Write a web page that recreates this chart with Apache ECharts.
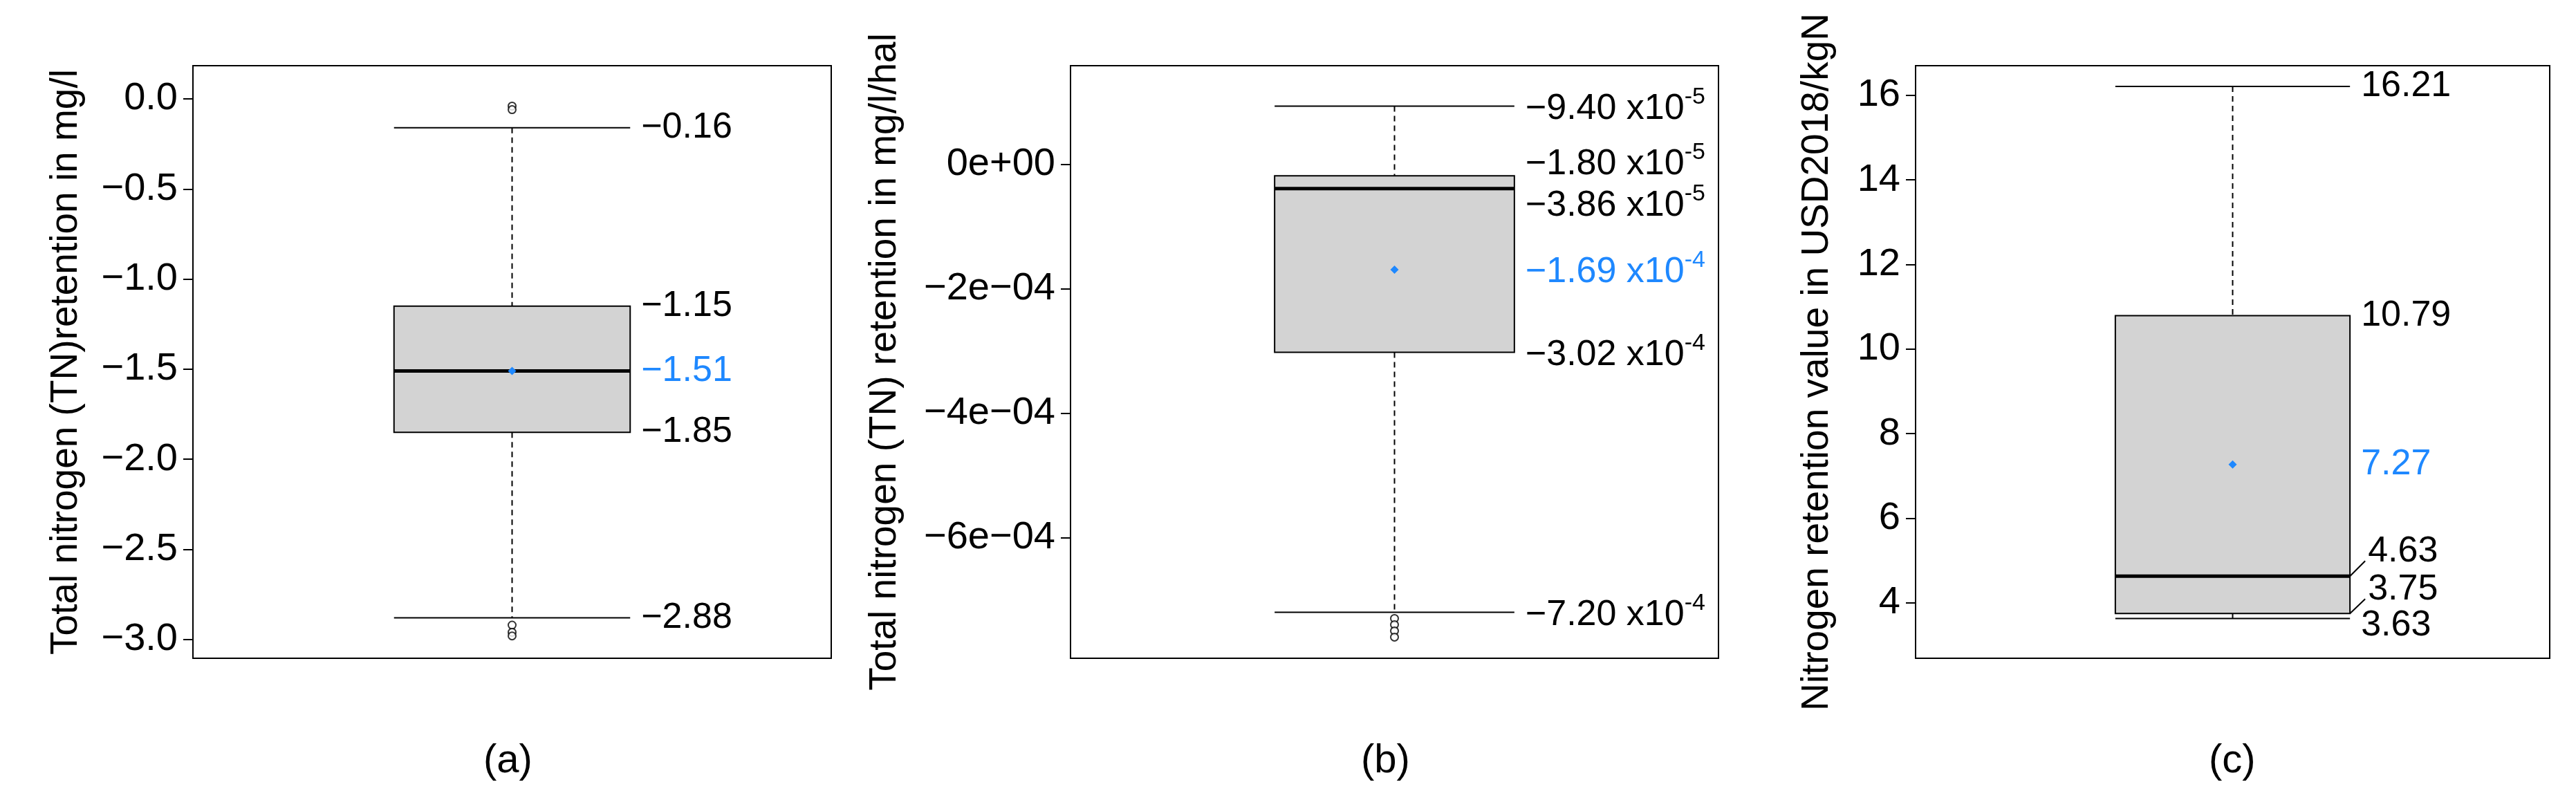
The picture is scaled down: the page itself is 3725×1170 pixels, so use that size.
<!DOCTYPE html>
<html><head><meta charset="utf-8">
<script src="https://cdn.jsdelivr.net/npm/echarts@6/dist/echarts.min.js"></script>
<style>html,body{margin:0;padding:0;background:#fff}#c{width:3725px;height:1170px}</style>
</head><body><div id="c"></div>
<script>
// Panel (a): TN retention mg/l
const statsA = [-2.88, -1.85, -1.51, -1.15, -0.16]; // lower whisker, Q3(low), median, Q1(high), upper whisker
const meanA = -1.51;
const outliersA = [-0.04, -0.06, -2.92, -2.96, -2.98];
const ticksA = [0, -0.5, -1.0, -1.5, -2.0, -2.5, -3.0];
const labelsA = ['−0.16', '−1.15', '−1.51', '−1.85', '−2.88'];
const labelValsA = [-0.16, -1.15, -1.51, -1.85, -2.88];

// Panel (b): TN retention mg/l/hal
const statsB = [-7.20e-4, -3.02e-4, -3.86e-5, -1.80e-5, 9.40e-5];
const meanB = -1.69e-4;
const outliersB = [-7.30e-4, -7.40e-4, -7.50e-4, -7.60e-4];
const ticksB = [0, -2e-4, -4e-4, -6e-4];
const tickLabelsB = ['0e+00', '−2e−04', '−4e−04', '−6e−04'];
const labelsB = [['−9.40 x10', '-5'], ['−1.80 x10', '-5'], ['−3.86 x10', '-5'], ['−1.69 x10', '-4'], ['−3.02 x10', '-4'], ['−7.20 x10', '-4']];
const labelValsB = [9.40e-5, -1.80e-5, -3.86e-5, -1.69e-4, -3.02e-4, -7.20e-4];

// Panel (c): value USD2018/kgN
const statsC = [3.63, 3.75, 4.63, 10.79, 16.21];
const meanC = 7.27;
const ticksC = [4, 6, 8, 10, 12, 14, 16];
const labelsC = ['16.21', '10.79', '7.27', '4.63', '3.75', '3.63'];
const labelValsC = [16.21, 10.79, 7.27, 4.63, 3.75, 3.63];

const captions = ['(a)', '(b)', '(c)'];
const titles = ['Total nitrogen (TN)retention in mg/l', 'Total nitrogen (TN) retention in mg/l/hal', 'Nitrogen retention value in USD2018/kgN'];

const BLUE = '#1E88FF';
const FONT = 'Liberation Sans, Arial, sans-serif';
const FS = 52;

// style-only: pixel offsets of value labels (to avoid overlap) and which are mean labels
const offA = [0, 0, 0, 0, 0];
const meanIdxA = 2;
const offB = [0, -21, 21, 0, 0, 0];
const meanIdxB = 3;
const offC = [0, 0, 0, -36, -35, 10];
const meanIdxC = 2;
const connC = [false, false, false, true, true, false];

function boxItem(stats, mean, labelVals, labelTexts, offs, meanIdx, conn, sup) {
  return function (params, api) {
    const cx = api.coord([0, 0])[0];
    const bw = api.size([1, 0])[0] * 0.37;
    const x0 = cx - bw / 2, x1 = cx + bw / 2;
    const y = v => api.coord([0, v])[1];
    const ch = [];
    ch.push({type: 'line', shape: {x1: cx, y1: y(stats[4]), x2: cx, y2: y(stats[3])}, style: {stroke: '#000', lineWidth: 2, lineDash: [8, 6]}});
    ch.push({type: 'line', shape: {x1: cx, y1: y(stats[1]), x2: cx, y2: y(stats[0])}, style: {stroke: '#000', lineWidth: 2, lineDash: [8, 6]}});
    ch.push({type: 'line', shape: {x1: x0, y1: y(stats[4]), x2: x1, y2: y(stats[4])}, style: {stroke: '#000', lineWidth: 2}});
    ch.push({type: 'line', shape: {x1: x0, y1: y(stats[0]), x2: x1, y2: y(stats[0])}, style: {stroke: '#000', lineWidth: 2}});
    ch.push({type: 'rect', shape: {x: x0, y: y(stats[3]), width: bw, height: y(stats[1]) - y(stats[3])}, style: {fill: '#D3D3D3', stroke: '#000', lineWidth: 2}});
    ch.push({type: 'line', shape: {x1: x0, y1: y(stats[2]), x2: x1, y2: y(stats[2])}, style: {stroke: '#000', lineWidth: 5}});
    const my = y(mean);
    ch.push({type: 'polygon', shape: {points: [[cx, my - 6], [cx + 6, my], [cx, my + 6], [cx - 6, my]]}, style: {fill: BLUE}});
    for (let i = 0; i < labelVals.length; i++) {
      const ly = y(labelVals[i]) + offs[i];
      const col = i === meanIdx ? BLUE : '#000';
      const lx = x1 + (conn && conn[i] ? 26 : 16);
      if (conn && conn[i]) {
        ch.push({type: 'line', shape: {x1: x1, y1: y(labelVals[i]), x2: x1 + 22, y2: ly + 14}, style: {stroke: '#000', lineWidth: 2}});
      }
      if (sup) {
        ch.push({type: 'text', x: lx, y: ly, style: {
          text: '{m|' + labelTexts[i][0] + '}{s|' + labelTexts[i][1] + '}',
          rich: {m: {fontSize: FS, fontFamily: FONT, fill: col, verticalAlign: 'bottom'},
                 s: {fontSize: 34, fontFamily: FONT, fill: col, verticalAlign: 'bottom', padding: [0, 0, 26, 0]}},
          verticalAlign: 'middle', align: 'left', fill: col}});
      } else {
        ch.push({type: 'text', x: lx, y: ly, style: {text: labelTexts[i], fontSize: FS, fontFamily: FONT, fill: col, verticalAlign: 'middle', align: 'left'}});
      }
    }
    return {type: 'group', children: ch};
  };
}

const grids = [
  {left: 279, top: 95, width: 923, height: 857},
  {left: 1548, top: 95, width: 937, height: 857},
  {left: 2770, top: 95, width: 917, height: 857}
].map(g => Object.assign(g, {show: true, borderColor: '#000', borderWidth: 2, backgroundColor: 'transparent'}));

const ranges = [[-3.104, 0.184], [-7.94e-4, 1.59e-4], [2.69, 16.70]];
const ticks = [ticksA, ticksB, ticksC];
const fmt = [
  v => (v < 0 ? '−' : '') + Math.abs(v).toFixed(1),
  v => tickLabelsB[ticksB.findIndex(t => Math.abs(t - v) < 1e-9)] || '',
  v => String(Math.round(v))
];
const gaps = [156, 241, 115];

const xAxis = [0, 1, 2].map(i => ({type: 'category', gridIndex: i, data: ['x'], show: false, boundaryGap: true}));
const yAxis = [0, 1, 2].map(i => ({
  type: 'value', gridIndex: i, min: ranges[i][0], max: ranges[i][1],
  name: titles[i], nameLocation: 'middle', nameGap: gaps[i], nameRotate: 90,
  nameTextStyle: {fontSize: 55, fontFamily: FONT, color: '#000'},
  axisLine: {show: false}, splitLine: {show: false},
  axisTick: {show: true, length: 14, lineStyle: {color: '#000', width: 2}, customValues: ticks[i]},
  axisLabel: {fontSize: 56, fontFamily: FONT, color: '#000', margin: 22, customValues: ticks[i], formatter: fmt[i]}
}));

const series = [
  {type: 'custom', xAxisIndex: 0, yAxisIndex: 0, data: [[0, 0]], renderItem: boxItem(statsA, meanA, labelValsA, labelsA, offA, meanIdxA, null, false), z: 2},
  {type: 'custom', xAxisIndex: 1, yAxisIndex: 1, data: [[0, 0]], renderItem: boxItem(statsB, meanB, labelValsB, labelsB, offB, meanIdxB, null, true), z: 2},
  {type: 'custom', xAxisIndex: 2, yAxisIndex: 2, data: [[0, 0]], renderItem: boxItem(statsC, meanC, labelValsC, labelsC, offC, meanIdxC, connC, false), z: 2},
  {type: 'scatter', xAxisIndex: 0, yAxisIndex: 0, data: outliersA.map(v => [0, v]), symbol: 'emptyCircle', symbolSize: 11, itemStyle: {color: '#000', borderColor: '#000', borderWidth: 1.5}, z: 3},
  {type: 'scatter', xAxisIndex: 1, yAxisIndex: 1, data: outliersB.map(v => [0, v]), symbol: 'emptyCircle', symbolSize: 11, itemStyle: {color: '#000', borderColor: '#000', borderWidth: 1.5}, z: 3}
];

const capX = [733, 2002, 3228];
const chart = echarts.init(document.getElementById('c'), null, {renderer: 'canvas'});
chart.setOption({
  animation: false, backgroundColor: '#fff',
  grid: grids, xAxis, yAxis, series,
  graphic: captions.map((t, i) => ({type: 'text', left: capX[i] - 34, top: 1072, style: {text: t, fontSize: 58, fontFamily: FONT, fill: '#000'}}))
});
</script></body></html>
